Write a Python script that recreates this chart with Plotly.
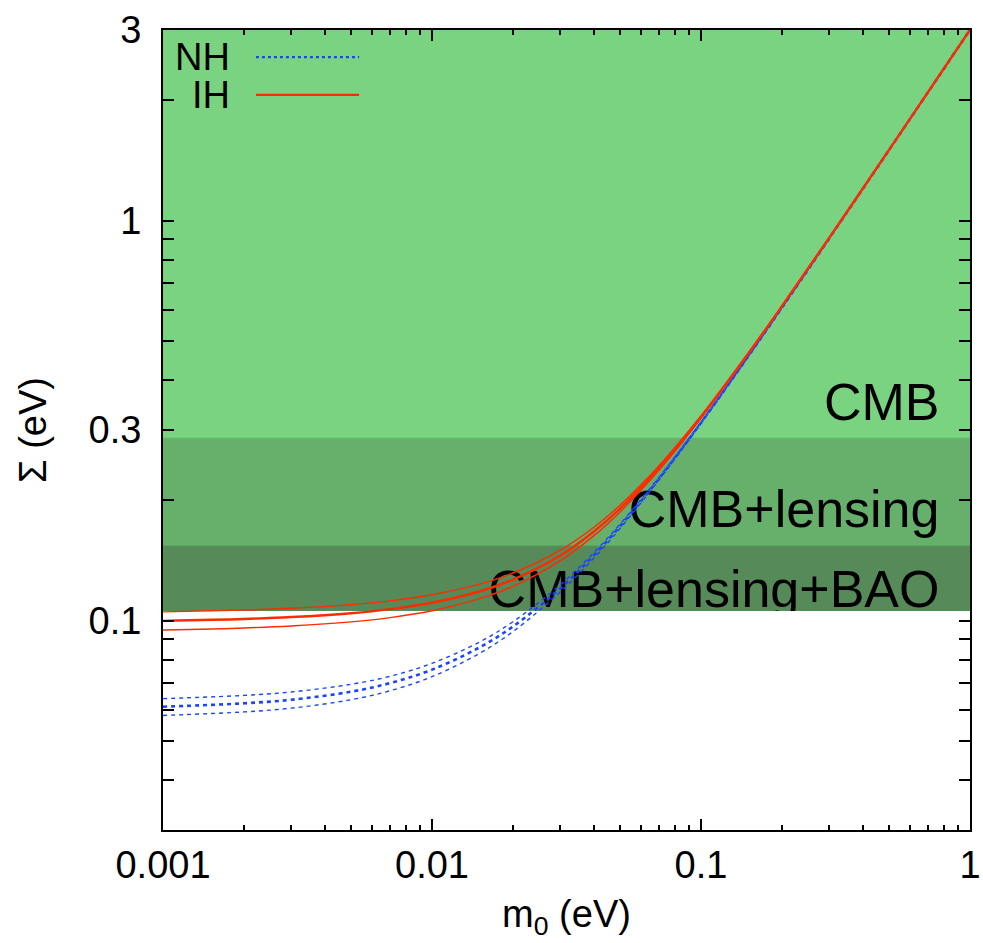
import plotly.graph_objects as go

# Lightest neutrino mass m0 (eV)
m0 = [0.001, 0.002, 0.003, 0.005, 0.007, 0.01, 0.015, 0.02, 0.03, 0.04,
      0.05, 0.07, 0.1, 0.15, 0.2, 0.3, 0.5, 0.7, 1.0]

# Sum of neutrino masses, normal hierarchy (lower / central / upper)
nh_low = [0.0580, 0.0592, 0.0605, 0.0635, 0.0669, 0.0725, 0.0829, 0.0940, 0.1181, 0.1436,
          0.1702, 0.2256, 0.3114, 0.4578, 0.6059, 0.9040, 1.5024, 2.1017, 3.0012]
nh_mid = [0.0610, 0.0622, 0.0635, 0.0665, 0.0699, 0.0755, 0.0858, 0.0968, 0.1206, 0.1460,
          0.1724, 0.2273, 0.3128, 0.4588, 0.6067, 0.9045, 1.5027, 2.1019, 3.0014]
nh_high = [0.0639, 0.0651, 0.0664, 0.0694, 0.0727, 0.0783, 0.0885, 0.0995, 0.1231, 0.1482,
           0.1744, 0.2290, 0.3141, 0.4597, 0.6074, 0.9050, 1.5030, 2.1021, 3.0015]

# Sum of neutrino masses, inverted hierarchy (lower / central / upper)
ih_low = [0.0949, 0.0960, 0.0971, 0.0994, 0.1019, 0.1060, 0.1136, 0.1220, 0.1414, 0.1633,
          0.1872, 0.2386, 0.3209, 0.4643, 0.6109, 0.9073, 1.5044, 2.1031, 3.0022]
ih_mid = [0.1000, 0.1011, 0.1022, 0.1045, 0.1070, 0.1110, 0.1184, 0.1268, 0.1457, 0.1673,
          0.1907, 0.2415, 0.3232, 0.4659, 0.6121, 0.9081, 1.5049, 2.1035, 3.0024]
ih_high = [0.1053, 0.1064, 0.1075, 0.1098, 0.1122, 0.1162, 0.1235, 0.1317, 0.1503, 0.1714,
           0.1945, 0.2446, 0.3256, 0.4676, 0.6134, 0.9090, 1.5054, 2.1039, 3.0027]

# Cosmological bands: common lower edge and individual upper edges (eV)
band_names = ["CMB", "CMB+lensing", "CMB+lensing+BAO"]
band_bottom = 0.1058
band_tops = [3.0, 0.286, 0.1538]
band_colors = ["#79d380", "#66b06c", "#568a59"]
band_edge_colors = ["#79d380", "#5eb565", "#4d9a53"]
label_x = [0.77, 0.77, 0.77]
label_y = [0.3426, 0.1845, 0.1164]

# Axes
x_range = [0.001, 1.0]
y_range = [0.03, 3.0]
x_major = [0.001, 0.01, 0.1, 1]
x_major_text = ["0.001", "0.01", "0.1", "1"]
x_minor = [k * d for d in (0.001, 0.01, 0.1) for k in range(2, 10)]
y_major = [0.1, 0.3, 1, 3]
y_major_text = ["0.1", "0.3", "1", "3"]
y_minor = [0.04, 0.05, 0.06, 0.07, 0.08, 0.09, 0.2, 0.4, 0.5, 0.6,
           0.7, 0.8, 0.9, 2]

BLUE = "#1a44ff"
RED = "#ff2a00"
FONT = "Liberation Sans, Arial, sans-serif"

fig = go.Figure()

# Bands (drawn beneath all traces)
for top, col, edge in zip(band_tops, band_colors, band_edge_colors):
    fig.add_shape(type="rect", xref="x domain", yref="y", x0=0, x1=1,
                  y0=band_bottom, y1=top, fillcolor=col,
                  line=dict(color=edge, width=1), layer="below")

# Band labels
fig.add_trace(go.Scatter(
    x=label_x, y=label_y, text=band_names, mode="text",
    textposition="middle left",
    textfont=dict(family=FONT, size=52, color="black"),
    hoverinfo="skip", showlegend=False))

# White area below the bands, trimming the lowest label at the band edge
fig.add_trace(go.Scatter(
    x=[x_range[0], x_range[1], x_range[1], x_range[0], x_range[0]],
    y=[y_range[0], y_range[0], band_bottom, band_bottom, y_range[0]],
    mode="lines", fill="toself", fillcolor="white",
    line=dict(width=0, color="white"), hoverinfo="skip", showlegend=False))

# Normal hierarchy
for ys, w in ((nh_low, 1.4), (nh_high, 1.4), (nh_mid, 2.6)):
    fig.add_trace(go.Scatter(
        x=m0, y=ys, mode="lines", line_shape="spline",
        line=dict(color=BLUE, width=w, dash="4px,4px"),
        showlegend=False, name="NH"))

# Inverted hierarchy
for ys, w in ((ih_low, 1.4), (ih_high, 1.4), (ih_mid, 2.4)):
    fig.add_trace(go.Scatter(
        x=m0, y=ys, mode="lines", line_shape="spline",
        line=dict(color=RED, width=w),
        showlegend=False, name="IH"))

# Legend (text on the left, line sample on the right)
for label, yd, col, dash in (("NH", 0.966, BLUE, "dot"), ("IH", 0.919, RED, "solid")):
    fig.add_annotation(xref="x domain", yref="y domain", x=0.0855, y=yd,
                       text=label, showarrow=False, xanchor="right", yanchor="middle",
                       font=dict(family=FONT, size=38, color="black"))
    fig.add_shape(type="line", xref="x domain", yref="y domain",
                  x0=0.1152, x1=0.243, y0=yd, y1=yd,
                  line=dict(color=col, width=2.2, dash=dash), layer="above")

axis_common = dict(
    type="log", showgrid=False, zeroline=False, showline=True,
    linecolor="black", linewidth=2, mirror="ticks", ticks="inside",
    tickcolor="black", tickwidth=1.5, automargin=False,
    tickfont=dict(family=FONT, size=38, color="black"),
    layer="above traces",
)

fig.update_xaxes(
    **axis_common,
    range=[-3, 0],
    tickmode="array", tickvals=x_major, ticktext=x_major_text, ticklen=11,
    minor=dict(tickmode="array", tickvals=x_minor, ticks="inside",
               ticklen=5, tickcolor="black", tickwidth=1.5),
    title=dict(text="m<sub>0</sub> (eV)", font=dict(family=FONT, size=38, color="black"),
               standoff=16),
)

fig.update_yaxes(
    **axis_common,
    range=[-1.5229, 0.4771],
    tickmode="array", tickvals=y_major, ticktext=y_major_text, ticklen=11,
    minor=dict(tickmode="array", tickvals=y_minor, ticks="inside",
               ticklen=11, tickcolor="black", tickwidth=1.5),
    ticklabelstandoff=12,
    title=dict(text="Σ (eV)", font=dict(family=FONT, size=38, color="black"),
               standoff=30),
)

fig.update_layout(
    width=983, height=943,
    margin=dict(l=163, r=13, t=30, b=113),
    paper_bgcolor="white", plot_bgcolor="white",
    showlegend=False,
)

fig.write_html("out.html")
